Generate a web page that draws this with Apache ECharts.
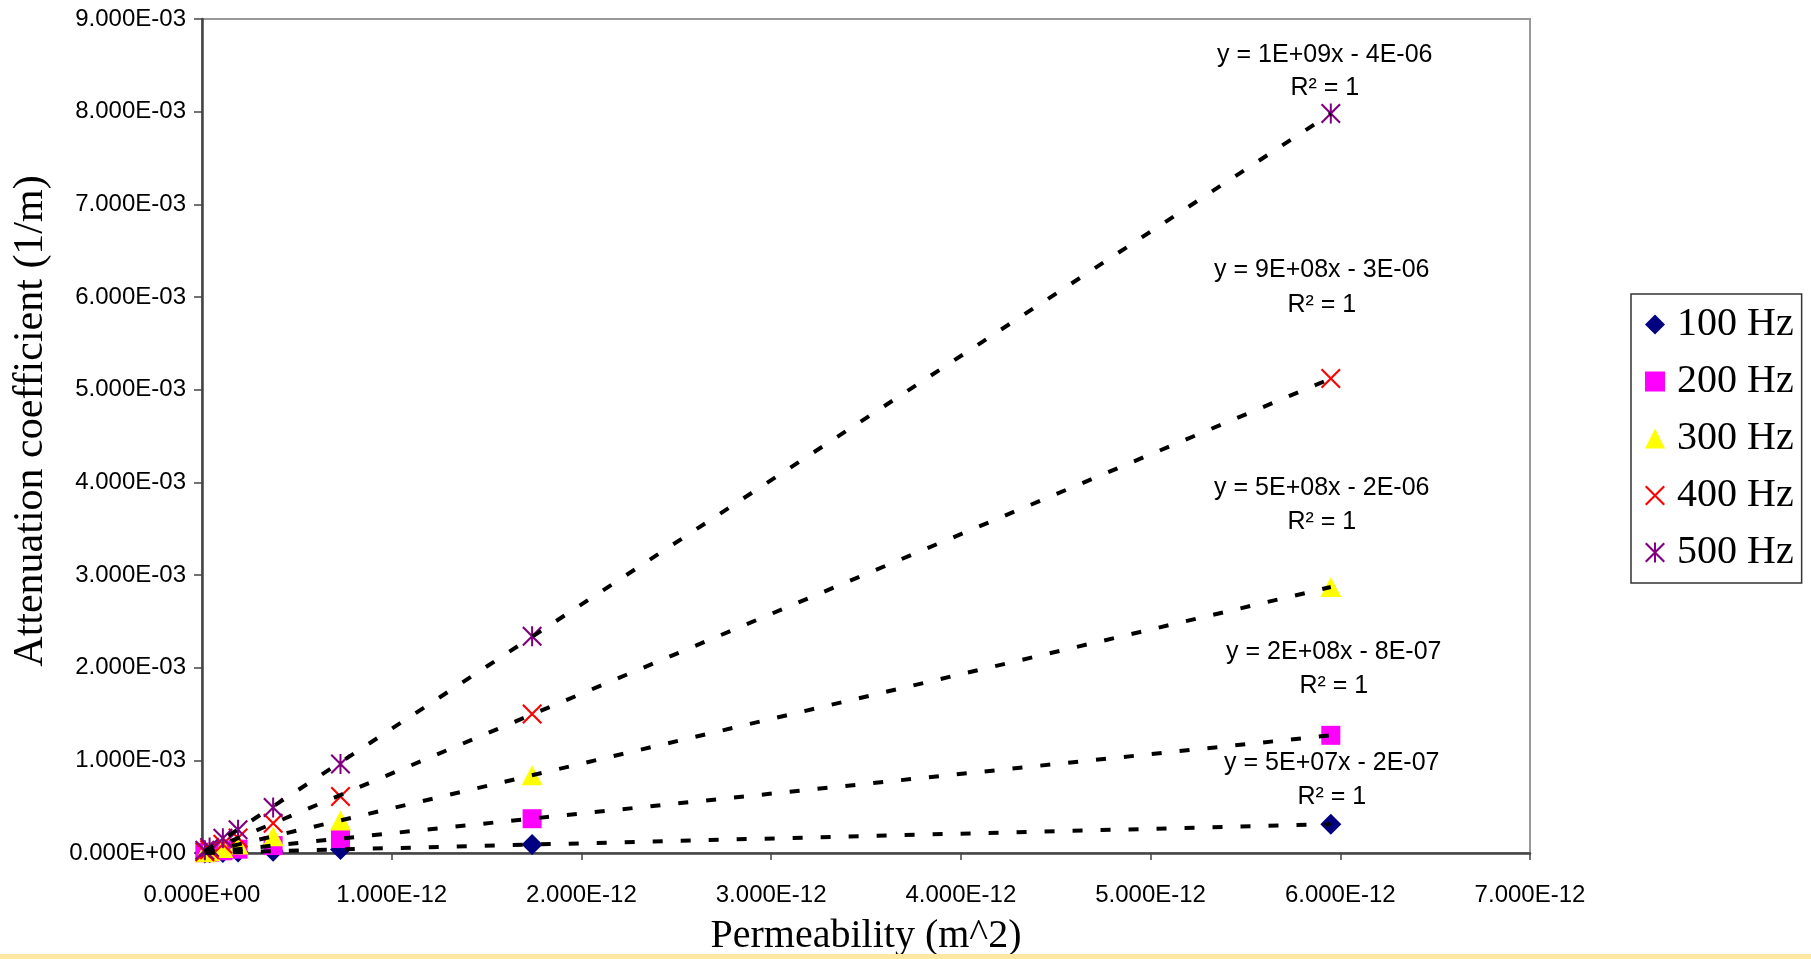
<!DOCTYPE html>
<html><head><meta charset="utf-8">
<script src="https://cdn.jsdelivr.net/npm/echarts@6/dist/echarts.min.js"></script>
<style>html,body{margin:0;padding:0;background:#fff}#c{width:1811px;height:959px}</style>
</head><body><div id="c"></div>
<script>
// ---- data ----
const permeability = [1.5e-14, 4.0e-14, 1.1e-13, 1.9e-13, 3.75e-13, 7.3e-13, 1.74e-12, 5.95e-12];
const att100 = [0.0000008, 0.000002, 0.000006, 0.000010, 0.000020, 0.000039, 0.000092, 0.000310];
const att200 = [0.000003, 0.000009, 0.000024, 0.000041, 0.000080, 0.000156, 0.000370, 0.001270];
const att300 = [0.000007, 0.000019, 0.000053, 0.000092, 0.000180, 0.000350, 0.000840, 0.002870];
const att400 = [0.000013, 0.000034, 0.000095, 0.000163, 0.000320, 0.000610, 0.001500, 0.005120];
const att500 = [0.000030, 0.000060, 0.000160, 0.000250, 0.000490, 0.000960, 0.002340, 0.007980];
const seriesNames = ['100 Hz', '200 Hz', '300 Hz', '400 Hz', '500 Hz'];
const equations = ['y = 5E+07x - 2E-07', 'y = 2E+08x - 8E-07', 'y = 5E+08x - 2E-06', 'y = 9E+08x - 3E-06', 'y = 1E+09x - 4E-06'];
const rSquared = ['R² = 1', 'R² = 1', 'R² = 1', 'R² = 1', 'R² = 1'];
const xAxisTitle = 'Permeability (m^2)';
const yAxisTitle = 'Attenuation coefficient (1/m)';

// ---- styles ----
const allY = [att100, att200, att300, att400, att500];
const colors = ['#000080', '#FF00FF', '#FFFF00', '#FF0000', '#800080'];
const crossPath = 'path://M0,1.5L1.5,0L20,18.5L18.5,20Z M18.5,0L20,1.5L1.5,20L0,18.5Z';
const starPath = 'path://M0,1.5L1.5,0L20,18.5L18.5,20Z M18.5,0L20,1.5L1.5,20L0,18.5Z M9,0L11,0L11,20L9,20Z';
const symbols = ['diamond', 'rect', 'triangle', crossPath, starPath];
const symSizes = [[21, 21], [19, 19], [21, 20], [20, 20], [20, 20]];
// label offsets (pixels) relative to the trendline end point: [dx, eqDy, r2Dy]
const labelOffsets = [[1, -61, -27], [3, -83, -49], [-9, -99, -65], [-9, -108, -73], [-6, -59, -26]];

function fmt(v) {
  if (Math.abs(v) < 1e-30) return '0.000E+00';
  const s = v.toExponential(3);
  const parts = s.split('e');
  const n = parseInt(parts[1], 10);
  return parts[0] + 'E' + (n < 0 ? '-' : '+') + String(Math.abs(n)).padStart(2, '0');
}
function linfit(xs, ys) {
  const n = xs.length;
  let sx = 0, sy = 0, sxx = 0, sxy = 0;
  for (let i = 0; i < n; i++) { sx += xs[i]; sy += ys[i]; sxx += xs[i] * xs[i]; sxy += xs[i] * ys[i]; }
  const m = (n * sxy - sx * sy) / (n * sxx - sx * sx);
  return [m, (sy - m * sx) / n];
}

const xMin = Math.min.apply(null, permeability);
const xMax = Math.max.apply(null, permeability);
const fits = allY.map(ys => linfit(permeability, ys));

const series = [];
allY.forEach((ys, i) => {
  series.push({
    name: seriesNames[i], type: 'scatter', symbol: symbols[i], symbolSize: symSizes[i],
    itemStyle: { color: colors[i], opacity: 1 }, z: 2 + i * 0.01,
    data: permeability.map((x, j) => [x, ys[j]])
  });
});
fits.forEach((f, i) => {
  series.push({
    name: seriesNames[i] + ' trend', type: 'line', symbol: 'none', silent: true, z: 5,
    lineStyle: { color: '#000', width: 4, type: [10, 18] },
    data: [[xMin, f[0] * xMin + f[1]], [xMax, f[0] * xMax + f[1]]]
  });
});

const chart = echarts.init(document.getElementById('c'), null, { renderer: 'canvas' });
const sansFont = '"Liberation Sans", Arial, sans-serif';
const serifFont = '"Liberation Serif", "Times New Roman", serif';
chart.setOption({
  animation: false,
  backgroundColor: '#ffffff',
  grid: { left: 202, top: 19, right: 281, bottom: 106, containLabel: false, outerBoundsMode: 'none',
    show: true, borderColor: '#999', borderWidth: 2, backgroundColor: 'transparent' },
  legend: {
    data: seriesNames.map((n, i) => ({ name: n, icon: symbols[i] })),
    orient: 'vertical', left: 1631, top: 294,
    itemWidth: 20, itemHeight: 20, itemGap: 16,
    padding: [10, 8, 10, 14],
    borderColor: '#333', borderWidth: 1.5,
    textStyle: { fontFamily: serifFont, fontSize: 40, color: '#000', lineHeight: 41, padding: [0, 0, 0, 7] }
  },
  xAxis: {
    type: 'value', min: 0, max: 7e-12, interval: 1e-12,
    name: xAxisTitle, nameLocation: 'middle', nameGap: 63,
    nameTextStyle: { fontFamily: serifFont, fontSize: 40, color: '#000' },
    axisLine: { show: true, onZero: false, lineStyle: { color: '#444', width: 2.5 } },
    axisTick: { show: true, inside: false, length: 7, lineStyle: { color: '#444', width: 1.5 } },
    axisLabel: { formatter: fmt, fontFamily: sansFont, fontSize: 24, color: '#000', margin: 30 },
    splitLine: { show: false }
  },
  yAxis: {
    type: 'value', min: 0, max: 0.009, interval: 0.001,
    name: yAxisTitle, nameLocation: 'middle', nameGap: 150, nameRotate: 90,
    nameTextStyle: { fontFamily: serifFont, fontSize: 42, color: '#000', padding: [0, 0, 0, 30] },
    axisLine: { show: true, onZero: false, lineStyle: { color: '#444', width: 2.5 } },
    axisTick: { show: true, inside: false, length: 8, lineStyle: { color: '#444', width: 1.5 } },
    axisLabel: { formatter: fmt, fontFamily: sansFont, fontSize: 24, color: '#000', margin: 16 },
    splitLine: { show: false }
  },
  series: series
});

const gr = [];
fits.forEach((f, i) => {
  const p = chart.convertToPixel({ gridIndex: 0 }, [xMax, f[0] * xMax + f[1]]);
  const o = labelOffsets[i];
  gr.push({ type: 'text', x: p[0] + o[0], y: p[1] + o[1], z: 50,
    style: { text: equations[i], font: '25px ' + sansFont, fill: '#000', align: 'center', verticalAlign: 'middle' } });
  gr.push({ type: 'text', x: p[0] + o[0], y: p[1] + o[2], z: 50,
    style: { text: rSquared[i], font: '25px ' + sansFont, fill: '#000', align: 'center', verticalAlign: 'middle' } });
});
gr.push({ type: 'rect', left: 0, bottom: 0, shape: { width: 1811, height: 5 }, style: { fill: '#FFE8A3' }, z: 100 });
chart.setOption({ graphic: gr });
</script>
</body></html>
